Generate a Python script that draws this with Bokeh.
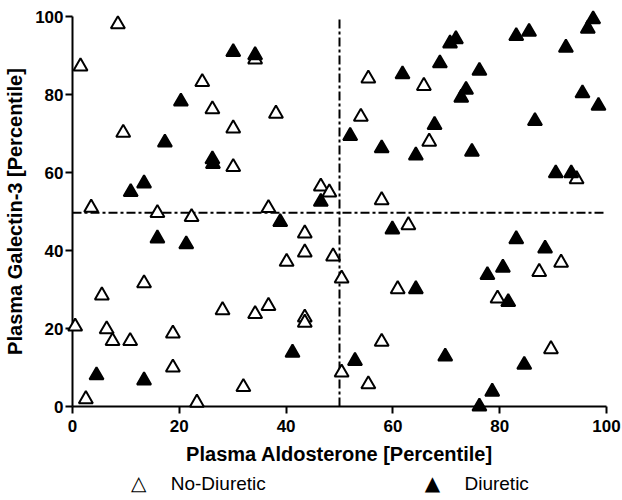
from bokeh.plotting import figure
from bokeh.models import ColumnDataSource, Range1d, FixedTicker
from bokeh.core.properties import value
from bokeh.embed import file_html
from bokeh.resources import INLINE

# ---- data (percentiles) ----
nodiur_x = [8.5, 1.5, 24.3, 26.2, 9.5, 30.1, 38.1, 34.2, 30.1, 3.5, 15.9, 22.3, 36.7, 46.5, 48.1,
            55.4, 65.8, 54.0, 66.8, 57.9, 94.4, 43.5, 43.5, 40.1, 48.8, 13.4, 5.5, 28.1, 34.2, 36.7,
            43.5, 43.5, 0.5, 6.4, 7.5, 10.8, 18.8, 18.8, 32.0, 2.5, 23.3, 50.4, 50.4, 62.9, 60.9,
            79.6, 87.4, 91.5, 57.9, 55.4, 89.6]
nodiur_y = [98.0, 87.2, 83.2, 76.2, 70.2, 71.3, 75.1, 89.0, 61.4, 51.0, 49.6, 48.6, 50.9, 56.4, 54.9,
            84.1, 82.2, 74.3, 67.9, 52.9, 58.3, 44.4, 39.5, 37.1, 38.5, 31.6, 28.5, 24.7, 23.7, 25.8,
            22.8, 21.5, 20.5, 19.8, 16.8, 16.8, 18.7, 10.0, 5.0, 1.9, 1.0, 32.8, 8.7, 46.5, 30.1,
            27.7, 34.5, 36.9, 16.6, 5.7, 14.7]

diur_x = [30.1, 34.2, 20.3, 17.3, 26.2, 26.3, 13.4, 10.9, 46.5, 38.9, 15.9, 21.3, 41.2, 4.5, 13.4,
          97.5, 96.5, 83.1, 85.5, 92.4, 71.8, 70.7, 68.8, 76.2, 61.8, 73.7, 72.8, 95.5, 98.5, 67.8,
          86.6, 52.0, 57.9, 64.3, 74.8, 90.5, 93.4, 59.9, 83.1, 88.5, 80.6, 77.7, 81.6, 64.3, 69.8,
          52.9, 84.6, 78.6, 76.2]
diur_y = [90.9, 90.1, 78.2, 67.7, 63.4, 62.2, 57.2, 55.0, 52.5, 47.3, 43.1, 41.6, 13.8, 8.0, 6.7,
          99.3, 96.9, 95.0, 96.1, 92.0, 94.2, 93.1, 88.0, 86.1, 85.2, 81.2, 79.2, 80.3, 77.1, 72.2,
          73.2, 69.4, 66.2, 64.4, 65.3, 59.8, 59.8, 45.4, 42.9, 40.5, 35.6, 33.7, 26.8, 30.1, 12.8,
          11.7, 10.7, 3.8, 0.0]

axis_limits = [0, 100]
tick_values = [0, 20, 40, 60, 80, 100]
x_cutoff = 50
y_cutoff = 49.7

series_labels = ["No-Diuretic", "Diuretic"]
legend_keys = ["\u25B3", "\u25B2"]
x_title = "Plasma Aldosterone [Percentile]"
y_title = "Plasma Galectin-3 [Percentile]"

# legend layout (placement below the x-axis, in axis units)
LEG_KEY_X = [12.4, 67.4]
LEG_TEXT_X = [18.4, 73.4]
LEG_Y = -19.7

FONT = "Liberation Sans"

p = figure(width=622, height=500,
           x_range=Range1d(axis_limits[0], axis_limits[1]),
           y_range=Range1d(axis_limits[0], axis_limits[1]),
           output_backend="svg", toolbar_location=None,
           min_border_left=72, min_border_right=16, min_border_top=16, min_border_bottom=94)
p.outline_line_color = None
p.xgrid.visible = False
p.ygrid.visible = False
p.background_fill_color = "white"
p.border_fill_color = "white"

# dash-dot cutoff lines
p.line([x_cutoff, x_cutoff], axis_limits, line_color="black", line_width=2, line_dash="9 3 3 3")
p.line(axis_limits, [y_cutoff, y_cutoff], line_color="black", line_width=2, line_dash="9 3 3 3")

src_n = ColumnDataSource(dict(x=nodiur_x, y=nodiur_y))
src_d = ColumnDataSource(dict(x=diur_x, y=diur_y))
p.scatter("x", "y", source=src_n, marker="triangle", size=14,
          fill_color="white", line_color="black", line_width=2, level="overlay")
p.scatter("x", "y", source=src_d, marker="triangle", size=14,
          fill_color="black", line_color="black", line_width=2, level="overlay")

# legend keys and labels (drawn unclipped below the plot area)
p.text(x=LEG_KEY_X, y=[LEG_Y, LEG_Y], text=legend_keys,
       text_font=value("DejaVu Sans"), text_font_style="bold", text_font_size="20px",
       text_color="black", text_align="center", text_baseline="middle", level="overlay")
p.text(x=LEG_TEXT_X, y=[LEG_Y, LEG_Y], text=series_labels,
       text_font=value(FONT), text_font_size="19px", text_color="black",
       text_align="left", text_baseline="middle", level="overlay")

for ax in (p.xaxis[0], p.yaxis[0]):
    ax.ticker = FixedTicker(ticks=tick_values)
    ax.axis_line_width = 2
    ax.major_tick_line_width = 2
    ax.major_tick_out = 7
    ax.major_tick_in = 0
    ax.minor_tick_line_color = None
    ax.major_label_text_font = FONT
    ax.major_label_text_font_style = "bold"
    ax.major_label_text_font_size = "17px"
    ax.major_label_text_color = "black"
    ax.axis_label_text_font = FONT
    ax.axis_label_text_font_style = "bold"
    ax.axis_label_text_font_size = "20px"
    ax.axis_label_text_color = "black"

p.xaxis.axis_label = x_title
p.yaxis.axis_label = y_title
p.xaxis.major_label_standoff = 6
p.xaxis.axis_label_standoff = 8
p.yaxis.major_label_standoff = 2
p.yaxis.axis_label_standoff = 6

open("out.html", "w").write(file_html(p, INLINE))
